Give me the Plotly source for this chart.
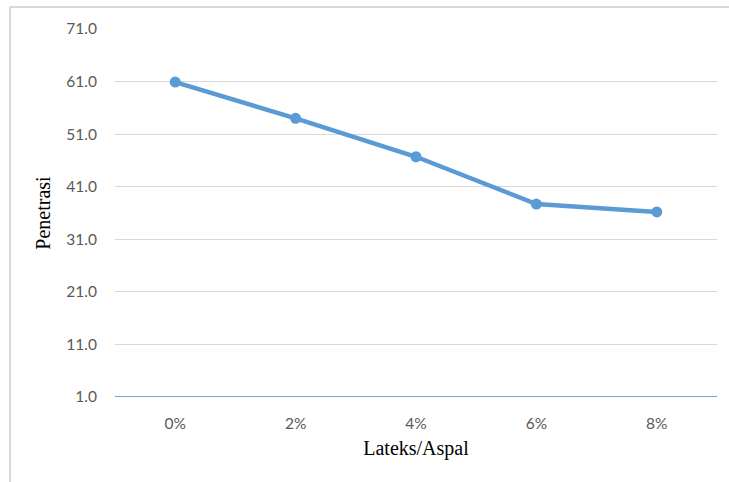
import plotly.graph_objects as go

# Penetration test results for asphalt modified with latex
categories = ["0%", "2%", "4%", "6%", "8%"]
penetrasi = [60.9, 54.0, 46.7, 37.7, 36.2]
y_ticks = [1.0, 11.0, 21.0, 31.0, 41.0, 51.0, 61.0, 71.0]

W, H = 729, 482
L, R, T, B = 115, 12, 29, 85
pw, ph = W - L - R, H - T - B

def px_x(x):
    return (x - L) / pw

def px_y(y):
    return (H - B - y) / ph

fig = go.Figure()
fig.add_trace(go.Scatter(
    x=categories, y=penetrasi, mode="lines+markers",
    line=dict(color="#5b9bd5", width=4.5),
    marker=dict(color="#5b9bd5", size=11),
    showlegend=False,
))

# thin outer frame on the left and top
frame = dict(type="line", xref="paper", yref="paper", line=dict(color="#d9d9d9", width=2))
fig.add_shape(**frame, x0=px_x(10), x1=px_x(10), y0=px_y(H), y1=px_y(7))
fig.add_shape(**frame, x0=px_x(10), x1=px_x(W), y0=px_y(7), y1=px_y(7))

tick_font = dict(family="Lato, Open Sans, sans-serif", size=15.5, color="#595959")
title_font = dict(family="Liberation Serif, Times New Roman, serif", size=20, color="#000000")

fig.update_layout(
    width=W, height=H,
    margin=dict(l=L, r=R, t=T, b=B),
    paper_bgcolor="white", plot_bgcolor="white",
    xaxis=dict(
        type="category", range=[-0.5, 4.5],
        showgrid=False, showline=False, zeroline=False,
        ticks="", ticklabelstandoff=15,
        tickfont=tick_font,
        title=dict(text="Lateks/Aspal", standoff=10, font=title_font),
    ),
    yaxis=dict(
        range=[1, 71], tickvals=y_ticks, ticktext=[f"{v:.1f}" for v in y_ticks],
        showgrid=True, gridcolor="#d9d9d9", gridwidth=1,
        zeroline=False, showline=False,
        ticks="", ticklabelstandoff=17,
        tickfont=tick_font,
        title=dict(text="Penetrasi", standoff=10, font=title_font),
    ),
)

# horizontal category axis line at the bottom of the value range
fig.add_shape(type="line", xref="paper", yref="y", x0=0, x1=1, y0=1, y1=1,
              line=dict(color="#7aa6cf", width=2))

fig.write_html("out.html")
